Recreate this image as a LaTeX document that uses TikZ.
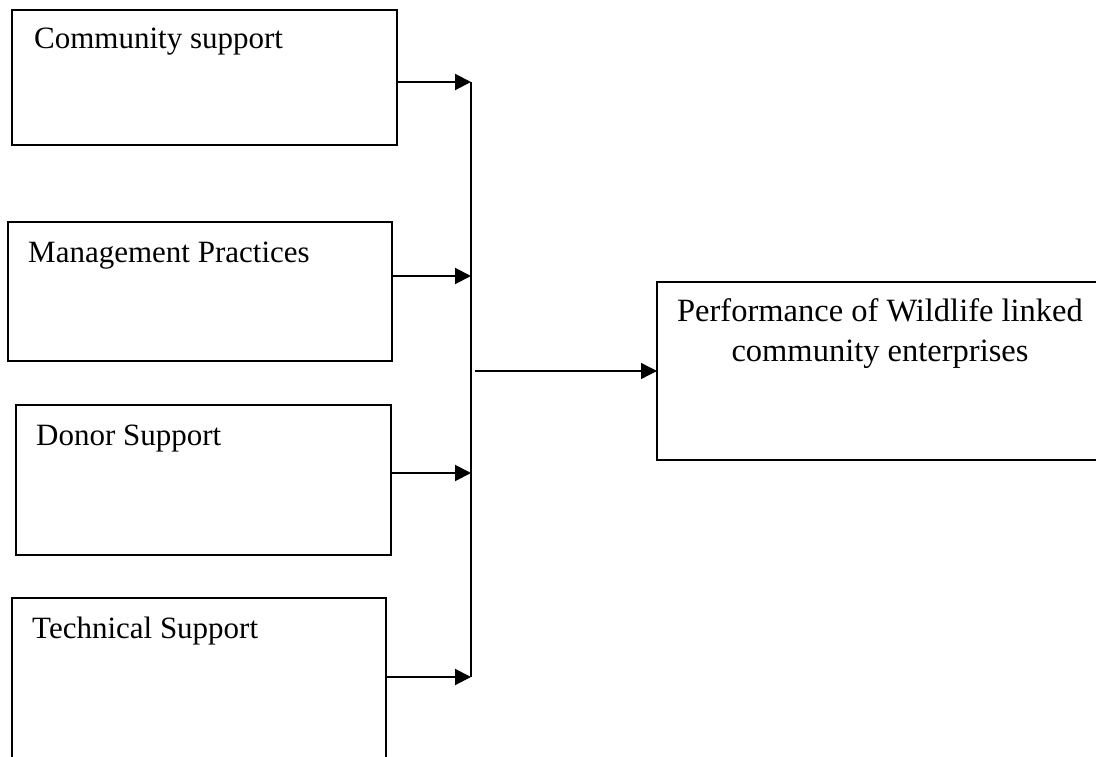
\documentclass[tikz,border=0pt]{standalone}
\usepackage{fontspec}
\setmainfont{Liberation Serif}
\usetikzlibrary{arrows.meta}
\begin{document}
\begin{tikzpicture}[x=1pt,y=-1pt,
  box/.style={draw=black,line width=2pt,anchor=north west,inner sep=0pt,outer sep=0pt},
  lbl/.style={anchor=base west,inner sep=0pt,font=\fontsize{31}{40}\selectfont},
  tip/.style={-{Triangle[length=16pt,width=16pt]}},
  conn/.style={line width=2pt,tip},
  bus/.style={line width=2pt}]
\useasboundingbox (0,0) rectangle (1096,757);
\clip (0,0) rectangle (1096,757);
% input boxes
\node[box,minimum width=385pt,minimum height=135pt] (b1) at (12,10) {};
\node[box,minimum width=384pt,minimum height=139pt] (b2) at (8,222) {};
\node[box,minimum width=375pt,minimum height=150pt] (b3) at (16,405) {};
\node[box,minimum width=374pt,minimum height=180pt] (b4) at (12,598) {};
% output box
\node[box,minimum width=460pt,minimum height=178pt] (out) at (657,282) {};
% labels
\node[lbl] (t1) at (34,49) {Community support};
\node[lbl] (t2) at (28,262) {Management Practices};
\node[lbl] (t3) at (36,445) {Donor Support};
\node[lbl] (t4) at (32,638) {Technical Support};
\node[anchor=north,inner sep=0pt,align=center,font=\fontsize{32.5}{40}\selectfont] (t5) at (880,298)
  {Performance of Wildlife linked\\community enterprises};
% bus coordinates
\coordinate (c1) at (471,82);
\coordinate (c2) at (471,276);
\coordinate (c3) at (471,473);
\coordinate (c4) at (471,677);
\coordinate (m) at (475,371);
\draw[bus] (c1) -- (c4);
\draw[conn] (b1.east |- c1) -- (c1);
\draw[conn] (b2.east |- c2) -- (c2);
\draw[conn] (b3.east |- c3) -- (c3);
\draw[conn] (b4.east |- c4) -- (c4);
\draw[line width=1.3pt,tip] (m) -- (out.west |- m);
\end{tikzpicture}
\end{document}
